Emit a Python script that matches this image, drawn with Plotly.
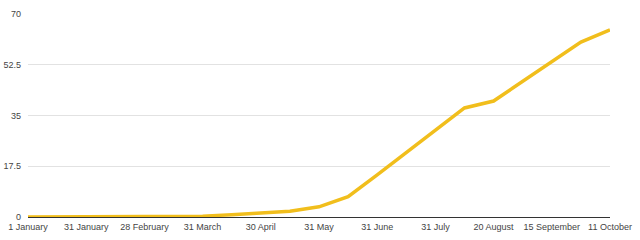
import plotly.graph_objects as go

tick_labels = ["1 January", "31 January", "28 February", "31 March", "30 April",
               "31 May", "31 June", "31 July", "20 August", "15 September", "11 October"]
values = [0, 0, 0, 0, 0, 0.1, 0.3, 0.8, 1.3, 2.0, 3.5, 7.0, 14.5, 22.3, 30.0,
          37.6, 40.0, 46.7, 53.7, 60.3, 64.5]
y_ticks = [0, 17.5, 35, 52.5, 70]

x_idx = list(range(len(values)))
tick_pos = x_idx[::2]

fig = go.Figure()
fig.add_trace(go.Scatter(x=x_idx, y=values, mode="lines",
                         line=dict(color="#F1BE1C", width=3.5), hoverinfo="skip"))

fig.update_layout(
    width=640, height=240,
    margin=dict(l=28, r=30, t=14, b=23),
    paper_bgcolor="white", plot_bgcolor="white",
    showlegend=False,
    font=dict(family="Liberation Sans, Arial, sans-serif", size=9, color="#444444"),
    xaxis=dict(range=[0, len(values) - 1], tickmode="array", tickvals=tick_pos,
               ticktext=tick_labels, showgrid=False, zeroline=False,
               showline=False, ticks="", tickangle=0, automargin=False,
               ticklabelstandoff=3,
               tickfont=dict(size=9, color="#444444")),
    yaxis=dict(range=[0, 70], tickmode="array", tickvals=y_ticks,
               ticktext=["0", "17.5", "35", "52.5", "70"],
               showgrid=True, gridcolor="#e2e2e2", gridwidth=1,
               zeroline=True, zerolinecolor="#333333", zerolinewidth=1,
               showline=False, ticks="", automargin=False,
               ticklabelstandoff=6,
               tickfont=dict(size=9, color="#444444")),
)

fig.write_html("out.html")
